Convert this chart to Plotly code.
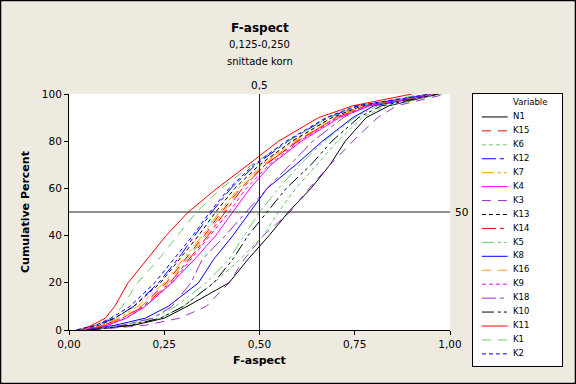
import plotly.graph_objects as go

# ---------------- data ----------------
PERCENT = [0, 2, 5, 10, 20, 30, 40, 50, 60, 70, 80, 90, 95, 100]

SERIES = ["N1", "K15", "K6", "K12", "K7", "K4", "K3", "K13", "K14",
          "K5", "K8", "K16", "K9", "K18", "K10", "K11", "K1", "K2"]

N1  = [0.05, 0.17, 0.25, 0.31, 0.42, 0.47, 0.525, 0.576, 0.635, 0.685, 0.725, 0.78, 0.84, 0.97]
K15 = [0.03, 0.09, 0.14, 0.19, 0.255, 0.305, 0.355, 0.40, 0.45, 0.515, 0.60, 0.70, 0.78, 0.96]
K6  = [0.05, 0.15, 0.24, 0.30, 0.38, 0.45, 0.51, 0.55, 0.595, 0.65, 0.705, 0.77, 0.83, 0.98]
K12 = [0.02, 0.07, 0.12, 0.17, 0.235, 0.285, 0.33, 0.375, 0.425, 0.49, 0.575, 0.68, 0.76, 0.95]
K7  = [0.03, 0.08, 0.13, 0.18, 0.25, 0.30, 0.35, 0.395, 0.445, 0.505, 0.59, 0.69, 0.77, 0.96]
K4  = [0.04, 0.10, 0.15, 0.20, 0.27, 0.33, 0.385, 0.43, 0.475, 0.53, 0.61, 0.71, 0.79, 0.97]
K3  = [0.06, 0.20, 0.29, 0.36, 0.42, 0.46, 0.51, 0.58, 0.63, 0.685, 0.745, 0.81, 0.86, 0.99]
K13 = [0.02, 0.08, 0.12, 0.17, 0.24, 0.29, 0.34, 0.385, 0.435, 0.50, 0.585, 0.69, 0.77, 0.96]
K14 = [0.03, 0.09, 0.14, 0.195, 0.265, 0.315, 0.365, 0.41, 0.455, 0.515, 0.60, 0.70, 0.78, 0.96]
K5  = [0.04, 0.14, 0.22, 0.28, 0.36, 0.42, 0.46, 0.50, 0.55, 0.605, 0.67, 0.75, 0.81, 0.97]
K8  = [0.04, 0.12, 0.20, 0.26, 0.34, 0.38, 0.43, 0.475, 0.52, 0.595, 0.665, 0.745, 0.80, 0.96]
K16 = [0.03, 0.09, 0.14, 0.19, 0.26, 0.31, 0.36, 0.405, 0.45, 0.51, 0.595, 0.70, 0.78, 0.96]
K9  = [0.03, 0.10, 0.15, 0.20, 0.27, 0.32, 0.37, 0.42, 0.465, 0.525, 0.605, 0.705, 0.785, 0.97]
K18 = [0.05, 0.14, 0.22, 0.27, 0.32, 0.35, 0.41, 0.465, 0.52, 0.58, 0.64, 0.72, 0.78, 0.95]
K10 = [0.05, 0.16, 0.24, 0.30, 0.38, 0.43, 0.47, 0.52, 0.57, 0.635, 0.69, 0.76, 0.82, 0.97]
K11 = [0.03, 0.06, 0.095, 0.12, 0.155, 0.205, 0.255, 0.313, 0.388, 0.47, 0.55, 0.655, 0.745, 0.90]
K1  = [0.02, 0.07, 0.11, 0.14, 0.18, 0.235, 0.285, 0.335, 0.40, 0.48, 0.575, 0.68, 0.76, 0.93]
K2  = [0.02, 0.07, 0.11, 0.16, 0.225, 0.275, 0.325, 0.37, 0.42, 0.485, 0.57, 0.675, 0.755, 0.95]

VALUES = [N1, K15, K6, K12, K7, K4, K3, K13, K14, K5, K8, K16, K9, K18, K10, K11, K1, K2]

X_TICKS = [0, 0.25, 0.5, 0.75, 1.0]
X_TICK_TEXT = ["0,00", "0,25", "0,50", "0,75", "1,00"]
Y_TICKS = [0, 20, 40, 60, 80, 100]
REF_X = 0.5
REF_Y = 50

# ---------------- styles ----------------
BLACK, RED, GREEN, BLUE = "#000000", "#FF0000", "#66CC66", "#0000FF"
ORANGE, MAGENTA, PURPLE = "#FF9900", "#FF00FF", "#9933CC"
SOLID = "solid"
LONG = "9px,7px"
SHORT = "4px,3px"
LONGSHORT = "14px,4px,4px,4px"
LONGSHORT2 = "12px,4px,3px,3px,3px,4px"

STYLES = [
    (BLACK, SOLID), (RED, LONG), (GREEN, SHORT), (BLUE, LONGSHORT),
    (ORANGE, LONGSHORT2), (MAGENTA, SOLID), (PURPLE, LONG), (BLACK, SHORT),
    (RED, LONGSHORT), (GREEN, LONGSHORT2), (BLUE, SOLID), (ORANGE, LONG),
    (MAGENTA, SHORT), (PURPLE, LONGSHORT), (BLACK, LONGSHORT2), (RED, SOLID),
    (GREEN, LONG), (BLUE, SHORT),
]

FONT = "DejaVu Sans"
BG = "#EEEAE0"

fig = go.Figure()

for name, xs, (col, dash) in zip(SERIES, VALUES, STYLES):
    fig.add_trace(go.Scatter(x=xs, y=PERCENT, mode="lines", name=name,
                             line=dict(color=col, dash=dash, width=1),
                             hoverinfo="skip", showlegend=False))

# ---- legend drawn as a small subplot ----
LEG_X0, LEG_X1, LEG_TX = 0.10, 0.39, 0.45
for i, (name, (col, dash)) in enumerate(zip(SERIES, STYLES), start=1):
    fig.add_trace(go.Scatter(x=[LEG_X0, LEG_X1], y=[i, i], mode="lines",
                             line=dict(color=col, dash=dash, width=1),
                             xaxis="x2", yaxis="y2", hoverinfo="skip",
                             showlegend=False))
fig.add_trace(go.Scatter(x=[LEG_TX] * (len(SERIES) + 1),
                         y=list(range(len(SERIES) + 1)),
                         text=["Variable"] + SERIES, mode="text",
                         textposition="middle right",
                         textfont=dict(family=FONT, size=8.5, color="black"),
                         xaxis="x2", yaxis="y2", hoverinfo="skip",
                         showlegend=False, cliponaxis=False))

W, H = 493.0, 272.0  # plot-area size in px
fig.update_layout(
    width=576, height=384, autosize=False,
    margin=dict(l=69, r=14, t=94, b=18, autoexpand=False),
    paper_bgcolor=BG, plot_bgcolor="white",
    font=dict(family=FONT, size=10.5, color="black"),
    showlegend=False,
    xaxis=dict(domain=[0, 381 / W], range=[0, 1], tickvals=X_TICKS,
               ticktext=X_TICK_TEXT, ticks="outside", ticklen=4,
               tickcolor="black", showline=True, linecolor="black",
               linewidth=1, showgrid=False, zeroline=False, anchor="y",
               tickfont=dict(size=10.5), automargin=False),
    yaxis=dict(domain=[36 / H, 1], range=[0, 100], tickvals=Y_TICKS,
               ticks="outside", ticklen=4, tickcolor="black", showline=True,
               linecolor="black", linewidth=1, showgrid=False, zeroline=False,
               anchor="x", tickfont=dict(size=10.5), automargin=False),
    xaxis2=dict(domain=[404 / W, 1], range=[0, 1], showline=True,
                mirror=True, linecolor="black", linewidth=1,
                showticklabels=False, ticks="", showgrid=False,
                zeroline=False, anchor="y2", fixedrange=True,
                automargin=False),
    yaxis2=dict(domain=[0, 1], range=[18.87, -0.646], showline=True,
                mirror=True, linecolor="black", linewidth=1,
                showticklabels=False, ticks="", showgrid=False,
                zeroline=False, anchor="x2", fixedrange=True,
                automargin=False),
)

# reference lines
fig.add_shape(type="line", xref="x", yref="y", x0=REF_X, x1=REF_X, y0=0, y1=100,
              line=dict(color="#222222", width=1))
fig.add_shape(type="line", xref="x", yref="y", x0=0, x1=1, y0=REF_Y, y1=REF_Y,
              line=dict(color="#222222", width=1))
fig.add_annotation(text="0,5", xref="x", x=REF_X, yref="y domain", y=1,
                   yanchor="bottom", yshift=1, showarrow=False,
                   font=dict(size=10.5))
fig.add_annotation(text="50", xref="x domain", x=1, yref="y", y=REF_Y,
                   xanchor="left", xshift=3, showarrow=False,
                   font=dict(size=10.5))

# titles
fig.add_annotation(text="<b>F-aspect</b>", xref="x domain", x=0.5, yref="paper",
                   y=(366 - 28) / H, yanchor="middle", showarrow=False,
                   font=dict(size=12))
fig.add_annotation(text="0,125-0,250", xref="x domain", x=0.5, yref="paper",
                   y=(366 - 45) / H, yanchor="middle", showarrow=False,
                   font=dict(size=10))
fig.add_annotation(text="snittade korn", xref="x domain", x=0.5, yref="paper",
                   y=(366 - 61) / H, yanchor="middle", showarrow=False,
                   font=dict(size=10))
fig.add_annotation(text="<b>F-aspect</b>", xref="x domain", x=0.5, yref="paper",
                   y=(366 - 360) / H, yanchor="middle", showarrow=False,
                   font=dict(size=11))
fig.add_annotation(text="<b>Cumulative Percent</b>", xref="paper",
                   x=(25 - 69) / W, xanchor="center", yref="y domain", y=0.5,
                   yanchor="middle", textangle=-90, showarrow=False,
                   font=dict(size=11))

# outer frame
fig.add_shape(type="rect", xref="paper", yref="paper",
              x0=(-69 + 0.5) / W, x1=(576 - 69 - 0.5) / W,
              y0=(366 - 384 + 0.5) / H, y1=(366 - 0.5) / H,
              line=dict(color="black", width=1.5), layer="above")

fig.write_html(
    "out.html",
    config={"displayModeBar": False, "responsive": False},
    post_script="document.body.style.margin='0';document.body.style.overflow='hidden';",
)
